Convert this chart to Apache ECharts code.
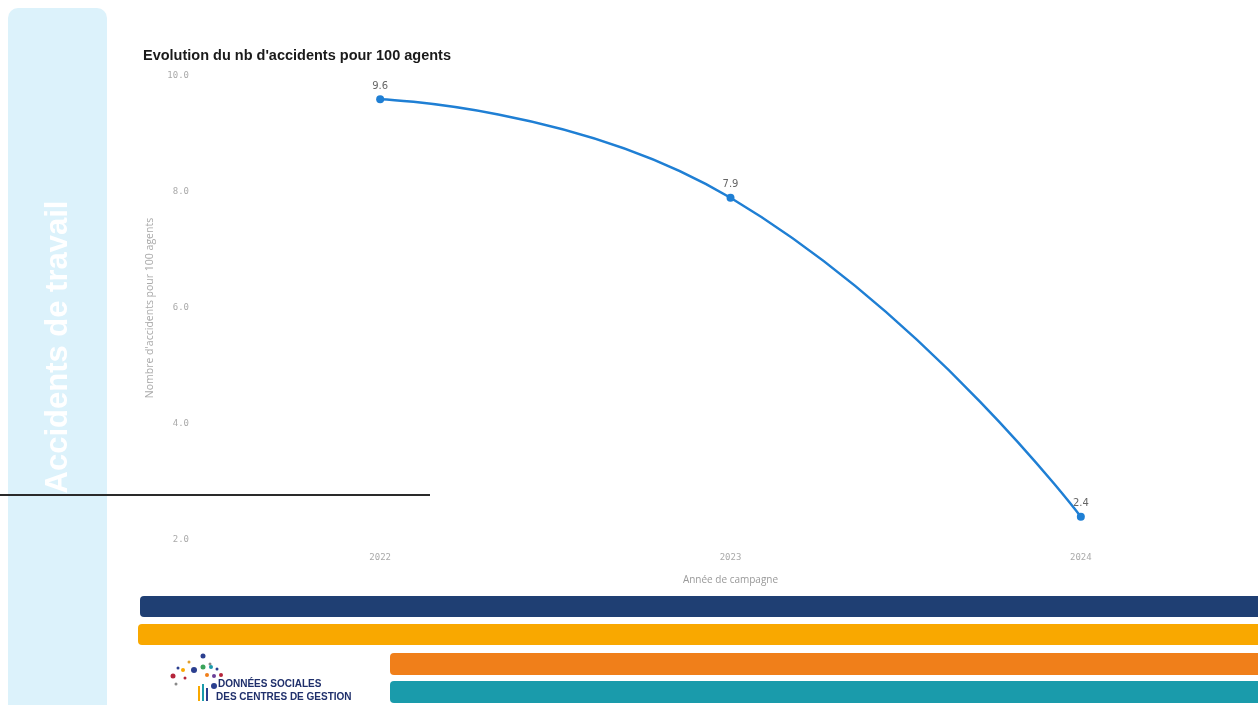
<!DOCTYPE html>
<html>
<head>
<meta charset="utf-8">
<script src="https://cdn.jsdelivr.net/npm/echarts@6/dist/echarts.min.js"></script>
<style>
html,body{margin:0;padding:0;background:#fff;}
#chart{width:1258px;height:705px;}
</style>
</head>
<body>
<div id="chart"></div>
<script>
const years = ['2022', '2023', '2024'];
const accidentsPer100 = [9.6, 7.9, 2.4];
const yTicks = [2, 4, 6, 8, 10];

const chart = echarts.init(document.getElementById('chart'), null, {renderer: 'canvas'});

const logoDots = [
  {x: 203, y: 656, r: 2.5, c: '#2b3f8f'},
  {x: 189, y: 662, r: 1.5, c: '#e0a030'},
  {x: 210, y: 664, r: 1.5, c: '#8a8a8a'},
  {x: 178, y: 668, r: 1.5, c: '#2b3f8f'},
  {x: 183, y: 670, r: 2, c: '#f9a800'},
  {x: 194, y: 670, r: 3, c: '#2b3f8f'},
  {x: 203, y: 667, r: 2.5, c: '#3aa35a'},
  {x: 211, y: 667, r: 2, c: '#1a9bab'},
  {x: 217, y: 669, r: 1.5, c: '#2b3f8f'},
  {x: 173, y: 676, r: 2.5, c: '#b5243a'},
  {x: 185, y: 678, r: 1.5, c: '#b5243a'},
  {x: 207, y: 675, r: 2, c: '#f07f1a'},
  {x: 214, y: 676, r: 2, c: '#6b3f98'},
  {x: 221, y: 675, r: 2, c: '#b5243a'},
  {x: 176, y: 684, r: 1.5, c: '#8a8a8a'},
  {x: 214, y: 686, r: 3, c: '#2b3f8f'}
];

const graphics = [
  {type: 'rect', shape: {x: 8, y: 8, width: 99, height: 720, r: 10}, style: {fill: '#dcf2fb'}, z: 0},
  {type: 'text', x: 58, y: 347, rotation: Math.PI / 2,
    style: {text: 'Accidents de travail', fill: '#ffffff', font: 'bold 31px "Liberation Sans", Arial, sans-serif', align: 'center', verticalAlign: 'middle'}, z: 1},
  {type: 'line', shape: {x1: 0, y1: 495, x2: 430, y2: 495}, style: {stroke: '#2a2a2a', lineWidth: 2}, z: 5},
  {type: 'rect', shape: {x: 140, y: 596, width: 1130, height: 21, r: 4}, style: {fill: '#1f3f73'}, z: 1},
  {type: 'rect', shape: {x: 138, y: 624, width: 1130, height: 21, r: 4}, style: {fill: '#f9a800'}, z: 1},
  {type: 'rect', shape: {x: 390, y: 653, width: 880, height: 22, r: 4}, style: {fill: '#f07f1a'}, z: 1},
  {type: 'rect', shape: {x: 390, y: 681, width: 880, height: 22, r: 4}, style: {fill: '#1a9bab'}, z: 1},
  {type: 'text', x: 218, y: 679, style: {text: 'DONNÉES SOCIALES', fill: '#1f2f6b', font: 'bold 10px "Liberation Sans Narrow", "Liberation Sans", sans-serif'}, z: 2},
  {type: 'text', x: 216, y: 692, style: {text: 'DES CENTRES DE GESTION', fill: '#1f2f6b', font: 'bold 10px "Liberation Sans Narrow", "Liberation Sans", sans-serif'}, z: 2},
  {type: 'line', shape: {x1: 199, y1: 701, x2: 199, y2: 686}, style: {stroke: '#f9a800', lineWidth: 2}, z: 2},
  {type: 'line', shape: {x1: 203, y1: 701, x2: 203, y2: 684}, style: {stroke: '#1a9bab', lineWidth: 2}, z: 2},
  {type: 'line', shape: {x1: 207, y1: 701, x2: 207, y2: 688}, style: {stroke: '#2b3f8f', lineWidth: 2}, z: 2}
];
logoDots.forEach(d => graphics.push({type: 'circle', shape: {cx: d.x, cy: d.y, r: d.r}, style: {fill: d.c}, z: 2}));

chart.setOption({
  backgroundColor: '#ffffff',
  animation: false,
  title: {
    text: "Evolution du nb d'accidents pour 100 agents",
    left: 138, top: 43,
    textStyle: {fontFamily: '"Liberation Sans", Arial, sans-serif', fontWeight: 'bold', fontSize: 14.5, color: '#1a1a1a'}
  },
  graphic: graphics,
  grid: {left: 205, right: 2, top: 76, bottom: 165, containLabel: false},
  xAxis: {
    type: 'category',
    data: years,
    boundaryGap: true,
    name: 'Année de campagne',
    nameLocation: 'middle',
    nameGap: 35,
    nameTextStyle: {color: '#999999', fontSize: 10, fontFamily: '"Open Sans", sans-serif'},
    axisLine: {show: false},
    axisTick: {show: false},
    axisLabel: {color: '#aaaaaa', fontSize: 9, margin: 13, fontFamily: '"DejaVu Sans Mono", monospace'}
  },
  yAxis: {
    type: 'value',
    min: yTicks[0], max: yTicks[yTicks.length - 1], interval: 2,
    name: "Nombre d'accidents pour 100 agents",
    nameLocation: 'middle',
    nameGap: 49,
    nameTextStyle: {color: '#aaaaaa', fontSize: 10.5, fontFamily: '"Open Sans", sans-serif'},
    axisLine: {show: false},
    axisTick: {show: false},
    splitLine: {show: false},
    axisLabel: {color: '#aaaaaa', fontSize: 9, margin: 16, fontFamily: '"DejaVu Sans Mono", monospace',
      formatter: v => v.toFixed(1)}
  },
  series: [{
    type: 'line',
    data: accidentsPer100,
    smooth: true,
    symbol: 'circle',
    symbolSize: 8,
    lineStyle: {color: '#1f7fd4', width: 2.5},
    itemStyle: {color: '#1f7fd4'},
    label: {show: true, position: 'top', color: '#666666', fontSize: 10, distance: 4,
      fontFamily: '"DejaVu Sans", sans-serif', formatter: p => p.value.toFixed(1)}
  }]
});
</script>
</body>
</html>
